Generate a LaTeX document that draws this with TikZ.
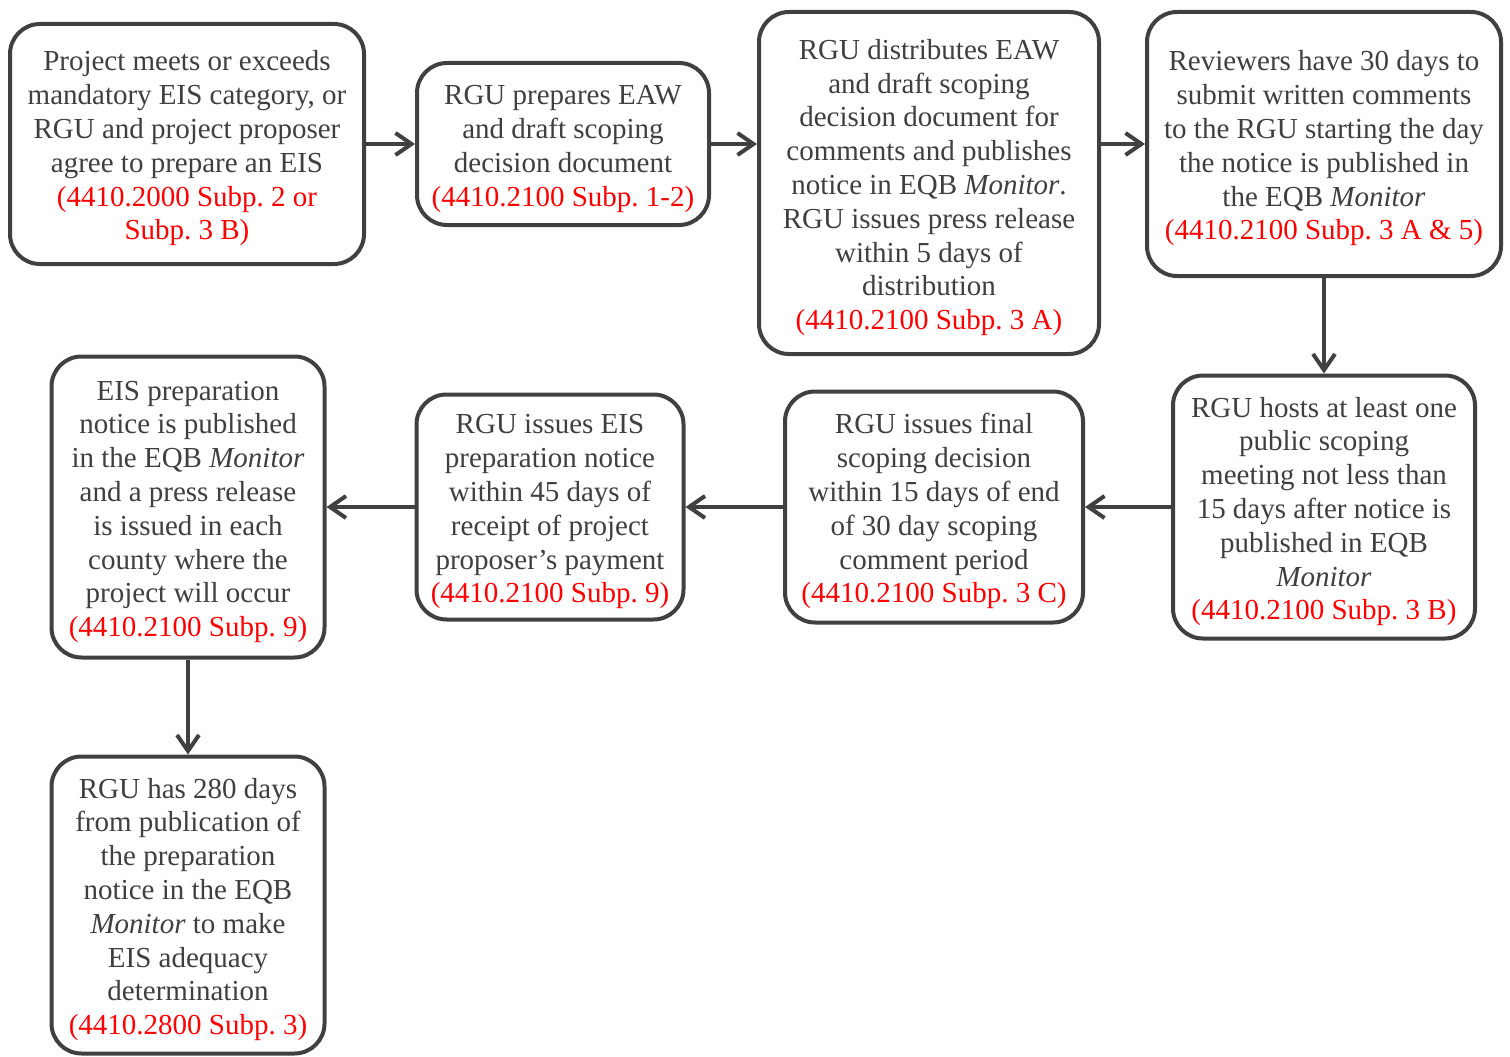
\documentclass[tikz,border=0pt]{standalone}
\usepackage{fontspec}
\setmainfont{Liberation Serif}
\usetikzlibrary{arrows.meta}
\frenchspacing
\definecolor{boxgray}{HTML}{404040}
\definecolor{txtgray}{HTML}{3F3F3F}
\definecolor{refred}{HTML}{FF0000}
\newcommand{\rf}[1]{\textcolor{refred}{#1}}
\newcommand{\fl}{\rule{0pt}{29pt}}
\tikzset{
  stepbox/.style={draw=boxgray, line width=4pt, rounded corners=30pt, fill=white,
    align=center, inner sep=0pt, text=txtgray,
    font=\fontsize{29}{33.8}\selectfont\frenchspacing},
  flow/.style={draw=boxgray, line width=4pt,
    -{Straight Barb[length=16pt,width=22pt,line width=4pt]}}
}
\begin{document}
\begin{tikzpicture}[x=1pt,y=-1pt]
\useasboundingbox (0,0) rectangle (1510,1057);
\node[stepbox, minimum width=354pt, minimum height=240pt] (A) at (187,144)
 {\fl Project meets or exceeds\\mandatory EIS category, or\\RGU and project proposer\\agree to prepare an EIS\\\rf{(4410.2000 Subp. 2 or}\\\rf{Subp. 3 B)}};
\node[stepbox, minimum width=292pt, minimum height=162pt] (B) at (563,144)
 {\fl RGU prepares EAW\\and draft scoping\\decision document\\\rf{(4410.2100 Subp. 1-2)}};
\node[stepbox, minimum width=340pt, minimum height=342pt] (C) at (929,183)
 {\fl RGU distributes EAW\\and draft scoping\\decision document for\\comments and publishes\\notice in EQB \textit{Monitor}.\\RGU issues press release\\within 5 days of\\distribution\\\rf{(4410.2100 Subp. 3 A)}};
\node[stepbox, minimum width=354pt, minimum height=264pt] (D) at (1324,144)
 {\fl Reviewers have 30 days to\\submit written comments\\to the RGU starting the day\\the notice is published in\\the EQB \textit{Monitor}\\\rf{(4410.2100 Subp. 3 A \& 5)}};
\node[stepbox, minimum width=302pt, minimum height=263pt] (E) at (1324,507)
 {\fl RGU hosts at least one\\public scoping\\meeting not less than\\15 days after notice is\\published in EQB\\\textit{Monitor}\\\rf{(4410.2100 Subp. 3 B)}};
\node[stepbox, minimum width=298pt, minimum height=231pt] (F) at (934,507)
 {\fl RGU issues final\\scoping decision\\within 15 days of end\\of 30 day scoping\\comment period\\\rf{(4410.2100 Subp. 3 C)}};
\node[stepbox, minimum width=267pt, minimum height=225pt] (G) at (550,507)
 {\fl RGU issues EIS\\preparation notice\\within 45 days of\\receipt of project\\proposer’s payment\\\rf{(4410.2100 Subp. 9)}};
\node[stepbox, minimum width=273pt, minimum height=301pt] (H) at (188,507)
 {\fl EIS preparation\\notice is published\\in the EQB \textit{Monitor}\\and a press release\\is issued in each\\county where the\\project will occur\\\rf{(4410.2100 Subp. 9)}};
\node[stepbox, minimum width=273pt, minimum height=297pt] (I) at (188,905)
 {\fl RGU has 280 days\\from publication of\\the preparation\\notice in the EQB\\\textit{Monitor} to make\\EIS adequacy\\determination\\\rf{(4410.2800 Subp. 3)}};
\draw[flow] (A.east) -- (B.west);
\draw[flow] (B.east) -- (C.west |- B.east);
\draw[flow] (C.east |- B.east) -- (D.west);
\draw[flow] (D.south) -- (E.north);
\draw[flow] (E.west) -- (F.east);
\draw[flow] (F.west) -- (G.east);
\draw[flow] (G.west) -- (H.east);
\draw[flow] (H.south) -- (I.north);
\end{tikzpicture}
\end{document}
